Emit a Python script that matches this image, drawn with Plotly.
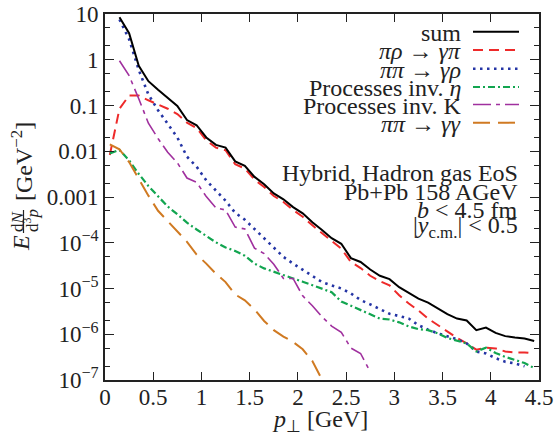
import plotly.graph_objects as go

# Transverse momentum bin centres [GeV]
pt = [0.05, 0.15, 0.25, 0.35, 0.45, 0.55, 0.65, 0.75, 0.85, 0.95,
      1.05, 1.15, 1.25, 1.35, 1.45, 1.55, 1.65, 1.75, 1.85, 1.95,
      2.05, 2.15, 2.25, 2.35, 2.45, 2.55, 2.65, 2.75, 2.85, 2.95,
      3.05, 3.15, 3.25, 3.35, 3.45, 3.55, 3.65, 3.75, 3.85, 3.95,
      4.05, 4.15, 4.25, 4.35, 4.45]

# Photon spectra E dN/d^3p [GeV^-2]
sum_all = [8.5, 3.8, 0.74, 0.34, 0.22, 0.145, 0.098, 0.048, 0.037,
           0.020, 0.0138, 0.012, 0.0060, 0.0048, 0.00275, 0.0019, 0.0012, 8.9e-4, 6.0e-4,
           4.4e-4, 2.8e-4, 1.9e-4, 1.26e-4, 9.5e-5, 4.6e-5, 3.8e-5, 2.6e-5, 1.9e-5, 1.6e-5,
           1.07e-5, 7.9e-6, 6.0e-6, 4.9e-6, 3.6e-6, 2.75e-6, 2.2e-6, 2.0e-6, 1.23e-6, 1.4e-6,
           1.07e-6, 9.1e-7, 8.5e-7, 8.1e-7, 7.1e-7]  # from pt[1]

pirho = [0.0083, 0.085, 0.165, 0.165, 0.13, 0.105, 0.085, 0.065, 0.042, 0.032,
         0.0174, 0.012, 0.0105, 0.0052, 0.0042, 0.0024, 0.00166, 0.00105, 7.8e-4, 5.2e-4,
         3.7e-4, 2.4e-4, 1.62e-4, 1.07e-4, 7.4e-5, 3.8e-5, 2.8e-5, 1.9e-5, 1.45e-5, 1.17e-5,
         7.1e-6, 4.7e-6, 3.3e-6, 2.2e-6, 1.58e-6, 1.12e-6, 8.3e-7, 6.3e-7, 4.6e-7, 5.1e-7,
         4.9e-7, 4.2e-7, 4.0e-7, 4.0e-7, 3.8e-7]

pipi_rho = [7.6, 2.8, 0.60, 0.174, 0.079, 0.040, 0.020, 0.0076, 0.0046,
            0.0023, 0.00135, 8.3e-4, 4.5e-4, 3.2e-4, 2.0e-4, 1.26e-4, 7.9e-5, 4.9e-5, 3.5e-5,
            2.6e-5, 1.86e-5, 1.38e-5, 1.17e-5, 1.0e-5, 7.8e-6, 5.6e-6, 4.5e-6, 3.5e-6, 2.8e-6,
            2.5e-6, 2.2e-6, 1.58e-6, 1.26e-6, 1.05e-6, 9.1e-7, 7.8e-7, 6.3e-7, 4.2e-7, 3.8e-7,
            3.0e-7, 2.5e-7, 2.3e-7, 2.0e-7]  # pt[1] .. pt[43]

eta = [0.0089, 0.0107, 0.0063, 0.0032, 0.00174, 0.00102, 6.2e-4, 4.2e-4, 2.75e-4, 1.95e-4,
       1.41e-4, 1.02e-4, 7.9e-5, 6.6e-5, 5.2e-5, 3.5e-5, 2.75e-5, 2.3e-5, 2.0e-5, 1.66e-5,
       1.41e-5, 1.17e-5, 1.0e-5, 8.3e-6, 5.2e-6, 4.2e-6, 3.5e-6, 2.75e-6, 2.2e-6, 2.1e-6,
       1.82e-6, 1.48e-6, 1.29e-6, 1.23e-6, 1.05e-6, 8.3e-7, 7.1e-7, 6.3e-7, 4.2e-7, 5.1e-7,
       3.9e-7, 3.2e-7, 2.75e-7, 2.35e-7, 1.82e-7]

kaon = [0.95, 0.45, 0.14, 0.041, 0.019, 0.0095, 0.0056, 0.0026, 0.0021,
        0.00102, 5.8e-4, 5.2e-4, 2.2e-4, 2.0e-4, 7.6e-5, 5.8e-5, 3.4e-5, 1.66e-5, 1.66e-5,
        6.9e-6, 4.2e-6, 2.4e-6, 1.51e-6, 1.1e-6, 5.0e-7, 3.8e-7, 1.51e-7]  # pt[1] .. pt[27]

gamgam = [0.0141, 0.011, 0.0058, 0.0025, 0.00107, 5.0e-4, 3.0e-4, 1.82e-4, 1.05e-4, 5.5e-5,
          3.5e-5, 2.1e-5, 1.38e-5, 7.4e-6, 5.5e-6, 3.5e-6, 1.95e-6, 1.23e-6, 8.9e-7, 6.8e-7,
          4.7e-7, 2.6e-7, 1.07e-7, 4.0e-8]  # pt[0] .. pt[23]

series = [
    # name, x, y, colour, dash, width
    ("<i>πρ</i> → <i>γπ</i>", pt, pirho, "#ee2a2a", "10px,6px", 2.0),
    ("<i>ππ</i> → <i>γρ</i>", pt[1:44], pipi_rho, "#2535a5", "2.5px,4.5px", 2.6),
    ("Processes inv. <i>η</i>", pt, eta, "#12a550", "7px,3px,2px,3px", 2.2),
    ("Processes inv. K", pt[1:28], kaon, "#a0309e", "18px,5px,4px,5px", 1.6),
    ("<i>ππ</i> → <i>γγ</i>", pt[:24], gamgam, "#d07a22", "17px,8px", 2.0),
]

W, H = 557, 437
ML, MR, MT, MB = 105, 18, 14, 57
PW, PH = W - ML - MR, H - MT - MB
FONT = "Liberation Serif"
FS = 23      # tick labels
FS_TXT = 24  # legend and annotation text
INK = "#222"


def xp(px):
    return (px - ML) / PW


def yp(py):
    return (H - MB - py) / PH


def label(text, x, y, size=FS_TXT, xanchor="center", angle=0):
    return dict(x=xp(x), y=yp(y), xref="paper", yref="paper", text=text,
                showarrow=False, xanchor=xanchor, yanchor="middle", textangle=angle,
                font=dict(family=FONT, size=size, color=INK))


fig = go.Figure()
for name, xs, ys, col, dash, w in series:
    fig.add_trace(go.Scatter(x=xs, y=ys, mode="lines", name=name,
                             line=dict(color=col, dash=dash, width=w)))
fig.add_trace(go.Scatter(x=pt[1:], y=sum_all, mode="lines", name="sum",
                         line=dict(color="black", width=2.0)))

# Legend: right-aligned labels with line samples to their right
legend_rows = [("sum", "black", "solid", 2.0)] + [(s[0], s[3], s[4], s[5]) for s in series]
row_y = [31.7, 50.0, 68.7, 87.0, 104.5, 122.7]
shapes = []
annotations = []
for (name, col, dash, w), ry in zip(legend_rows, row_y):
    annotations.append(label(name, 463, ry + 1, xanchor="right"))
    shapes.append(dict(type="line", xref="paper", yref="paper",
                       x0=xp(473), x1=xp(519), y0=yp(ry), y1=yp(ry),
                       line=dict(color=col, dash=dash, width=w)))

info = ["Hybrid, Hadron gas EoS", "Pb+Pb 158 AGeV",
        "<i>b</i> &lt; 4.5 fm", "|<i>y</i><sub>c.m.</sub>| &lt; 0.5"]
for txt, ry in zip(info, [173.0, 191.5, 209.5, 226.5]):
    annotations.append(label(txt, 520, ry, xanchor="right"))

# y-axis title, E dN/d^3p [GeV^-2], with the fraction built from stacked pieces
annotations.append(label("[GeV<sup>−2</sup>]", 22, 162, angle=-90))
annotations.append(label("<i>E</i>", 21, 243, angle=-90))
annotations.append(label("d<i>N</i>", 17, 221, size=17, angle=-90))
annotations.append(label("d<sup>3</sup><i>p</i>", 31, 221, size=17, angle=-90))
shapes.append(dict(type="line", xref="paper", yref="paper",
                   x0=xp(23.5), x1=xp(23.5), y0=yp(210), y1=yp(233),
                   line=dict(color=INK, width=1.2)))
# x-axis title
annotations.append(label("<i>p</i><sub>⊥</sub> [GeV]", 320, 421))

ytick_vals = [1e-7, 1e-6, 1e-5, 1e-4, 1e-3, 1e-2, 1e-1, 1, 10]
ytick_text = ["10<sup>−7</sup>", "10<sup>−6</sup>", "10<sup>−5</sup>", "10<sup>−4</sup>",
              "0.001", "0.01", "0.1", "1", "10"]
yminor = [m * 10.0 ** e for e in range(-7, 1) for m in (2, 5)]
xtick_vals = [0, 0.5, 1, 1.5, 2, 2.5, 3, 3.5, 4, 4.5]
xtick_text = ["0", "0.5", "1", "1.5", "2", "2.5", "3", "3.5", "4", "4.5"]

fig.update_layout(
    width=W, height=H,
    margin=dict(l=ML, r=MR, t=MT, b=MB),
    paper_bgcolor="white", plot_bgcolor="white",
    showlegend=False,
    font=dict(family=FONT, size=FS, color=INK),
    shapes=shapes, annotations=annotations,
    xaxis=dict(range=[0, 4.5], tickvals=xtick_vals, ticktext=xtick_text,
               ticks="inside", ticklen=8, tickwidth=1.3, tickcolor=INK,
               showline=True, linecolor=INK, linewidth=1.6, mirror="ticks",
               showgrid=False, zeroline=False, automargin=False,
               ticklabelstandoff=-4,
               tickfont=dict(family=FONT, size=FS, color=INK)),
    yaxis=dict(type="log", range=[-7, 1], tickvals=ytick_vals, ticktext=ytick_text,
               ticks="inside", ticklen=9, tickwidth=1.3, tickcolor=INK,
               minor=dict(tickvals=yminor, ticks="inside", ticklen=5, tickwidth=1.1,
                          tickcolor=INK, showgrid=False),
               showline=True, linecolor=INK, linewidth=1.6, mirror="ticks",
               showgrid=False, zeroline=False, automargin=False,
               tickfont=dict(family=FONT, size=FS, color=INK)),
)

fig.write_html("out.html")
